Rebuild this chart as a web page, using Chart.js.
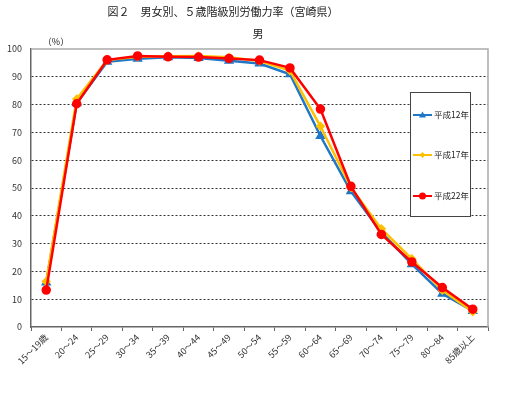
<!DOCTYPE html>
<html>
<head>
<meta charset="utf-8">
<script src="https://cdn.jsdelivr.net/npm/chart.js@4.4.1/dist/chart.umd.min.js"></script>
<style>
  html, body { margin: 0; padding: 0; background: #fff; }
  #wrap { width: 531px; height: 396px; }
</style>
</head>
<body>
<div id="wrap"><canvas id="lineChart" width="531" height="396"></canvas></div>
<script>
var labels = [
    "15～19歳", "20～24", "25～29", "30～34", "35～39", "40～44", "45～49",
    "50～54", "55～59", "60～64", "65～69", "70～74", "75～79", "80～84", "85歳以上"
];
var seriesNames = ["平成12年", "平成17年", "平成22年"];
var h12 = [16.0, 80.5, 95.4, 96.5, 97.0, 96.8, 95.8, 94.8, 90.9, 68.7, 48.8, 34.0, 22.6, 12.0, 5.8];
var h17 = [16.4, 82.0, 96.0, 97.2, 97.4, 97.5, 97.0, 95.7, 92.2, 72.2, 50.2, 35.3, 24.5, 13.2, 5.5];
var h22 = [13.3, 80.3, 96.1, 97.5, 97.2, 97.1, 96.6, 96.0, 93.2, 78.4, 50.6, 33.3, 23.4, 14.2, 6.4];
var yTicks = [0, 10, 20, 30, 40, 50, 60, 70, 80, 90, 100];

var jp = '"Noto Sans CJK JP", "DejaVu Sans", sans-serif';

// plot area border, titles and the boxed legend
var decor = {
    id: 'decor',
    beforeDatasetsDraw: function(chart) {
        var c = chart.ctx, a = chart.chartArea;
        c.save();
        c.strokeStyle = '#aaaaaa';
        c.lineWidth = 1.5;
        c.beginPath();
        c.moveTo(a.left, a.top);
        c.lineTo(a.right, a.top);
        c.lineTo(a.right, a.bottom);
        c.stroke();
        c.restore();
    },
    afterDraw: function(chart) {
        var c = chart.ctx;
        c.save();
        c.fillStyle = '#222';
        c.textBaseline = 'middle';
        c.textAlign = 'center';
        c.font = '11px ' + jp;
        c.fillText('図２　男女別、５歳階級別労働力率（宮崎県）', 223, 12);
        c.font = '11px ' + jp;
        c.fillText('男', 258, 34);
        c.font = '9px ' + jp;
        c.fillText('（%）', 56, 42);

        // legend box
        var bx = 410, by = 92, bw = 60, bh = 124;
        c.fillStyle = '#fff';
        c.fillRect(bx, by, bw, bh);
        c.strokeStyle = '#444';
        c.lineWidth = 1;
        c.strokeRect(bx + 0.5, by + 0.5, bw, bh);
        var rows = [115, 155, 196];
        chart.data.datasets.forEach(function(ds, i) {
            var y = rows[ds.legendRow];
            c.strokeStyle = ds.borderColor;
            c.lineWidth = 2;
            c.beginPath();
            c.moveTo(bx + 3, y);
            c.lineTo(bx + 22, y);
            c.stroke();
            c.fillStyle = ds.backgroundColor;
            c.beginPath();
            if (ds.pointStyle === 'triangle') {
                c.moveTo(bx + 12.5, y - 3.5);
                c.lineTo(bx + 16, y + 2.5);
                c.lineTo(bx + 9, y + 2.5);
            } else if (ds.pointStyle === 'rectRot') {
                c.moveTo(bx + 12.5, y - 3);
                c.lineTo(bx + 15.5, y);
                c.lineTo(bx + 12.5, y + 3);
                c.lineTo(bx + 9.5, y);
            } else {
                c.arc(bx + 12.5, y, 3.5, 0, Math.PI * 2);
            }
            c.fill();
            c.fillStyle = '#222';
            c.textAlign = 'left';
            c.font = '8.5px ' + jp;
            c.fillText(ds.label, bx + 24, y);
        });
        c.restore();
    }
};

new Chart(document.getElementById('lineChart').getContext('2d'), {
    type: 'line',
    data: {
        labels: labels,
        datasets: [
            {
                label: seriesNames[0], data: h12, legendRow: 0, order: 2,
                borderColor: '#1f77c8', backgroundColor: '#1f77c8',
                borderWidth: 2.5, pointStyle: 'triangle', pointRadius: 3.5
            },
            {
                label: seriesNames[1], data: h17, legendRow: 1, order: 1,
                borderColor: '#ffc000', backgroundColor: '#ffc000',
                borderWidth: 2.5, pointStyle: 'rectRot', pointRadius: 3
            },
            {
                label: seriesNames[2], data: h22, legendRow: 2, order: 0,
                borderColor: '#ff0000', backgroundColor: '#ff0000',
                borderWidth: 2.5, pointStyle: 'circle', pointRadius: 3.5
            }
        ]
    },
    options: {
        responsive: false,
        animation: false,
        layout: { padding: { top: 49, right: 43, left: 0, bottom: 0 } },
        plugins: {
            legend: { display: false },
            title: { display: false },
            tooltip: { enabled: false }
        },
        scales: {
            x: {
                offset: true,
                grid: { offset: true, drawOnChartArea: false, drawTicks: true, tickLength: 4, color: '#666' },
                border: { color: '#666', width: 1.5 },
                ticks: {
                    minRotation: 45, maxRotation: 45, autoSkip: false,
                    color: '#333', font: { size: 9, family: jp }, padding: 1
                },
                afterFit: function(s) { s.height = 69; }
            },
            y: {
                min: 0, max: 100,
                afterBuildTicks: function(s) { s.ticks = yTicks.map(function(v) { return { value: v }; }); },
                grid: {
                    color: function(ctx) { return ctx.tick.value === 0 || ctx.tick.value === 100 ? 'rgba(0,0,0,0)' : '#333'; },
                    lineWidth: 1, drawTicks: false
                },
                border: { color: '#666', width: 1.5, dash: [2, 2] },
                ticks: { color: '#333', font: { size: 9, family: jp }, padding: 9 },
                afterFit: function(s) { s.width = 31; }
            }
        }
    },
    plugins: [decor]
});
</script>
</body>
</html>
